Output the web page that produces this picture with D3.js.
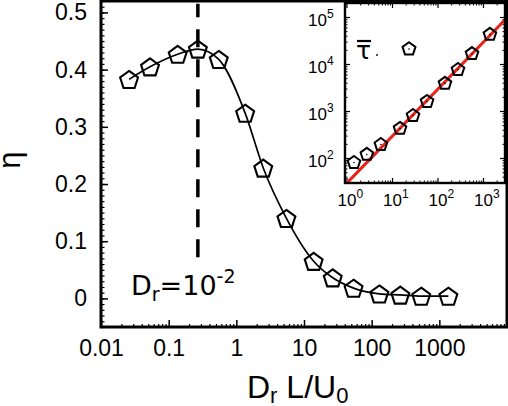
<!DOCTYPE html>
<html>
<head>
<meta charset="utf-8">
<script src="https://cdn.jsdelivr.net/npm/d3@7"></script>
<style>
  body { margin: 0; background: #fff; }
  svg { display: block; }
</style>
</head>
<body>
<div id="chart"></div>
<script>
// Main panel data: eta vs Dr L/U0
const drValues = [0.026, 0.053, 0.136, 0.27, 0.55, 1.35, 2.5, 5.5, 13.9, 26.6, 54, 130, 265, 540, 1360];
const etaValues = [0.383, 0.405, 0.427, 0.436, 0.418, 0.324, 0.228, 0.14, 0.065, 0.036, 0.018, 0.008, 0.006, 0.004, 0.004];
const xTicks = [0.01, 0.1, 1, 10, 100, 1000];
const xTickLabels = ['0.01', '0.1', '1', '10', '100', '1000'];
const yTicks = [0, 0.1, 0.2, 0.3, 0.4, 0.5];
const yTickLabels = ['0', '0.1', '0.2', '0.3', '0.4', '0.5'];
const peakDr = 0.27;
const peakLineEta = [0.072, 0.515];

// Inset data: mean tau vs Dr L/U0 (log-log)
const tauX = [1.46, 2.8, 5.7, 15, 29, 59, 146, 282, 573, 1420];
const tauY = [82, 122, 198, 435, 820, 1630, 3960, 7800, 17000, 43600];
const fitX = [1.08, 3050];
const fitY = [31, 87000];
const insetXTicks = [1, 10, 100, 1000];
const insetXExp = ['0', '1', '2', '3'];
const insetYTicks = [100, 1000, 10000, 100000];
const insetYExp = ['2', '3', '4', '5'];

// Layout
const W = 508, H = 406;
const MAIN = { LEFT: 101, RIGHT: 507, TOP: 1, BOTTOM: 327 };
const INSET = { LEFT: 345, RIGHT: 505, TOP: 3, BOTTOM: 183 };
const TICK_FONT = '"Liberation Sans", Arial, sans-serif';

const svg = d3.select('#chart').append('svg')
  .attr('width', W)
  .attr('height', H);

// Pentagon path centred on 0,0
function pentagon(r) {
  const pts = d3.range(5).map(k => {
    const a = -Math.PI / 2 + k * 2 * Math.PI / 5;
    return [r * Math.cos(a), r * Math.sin(a)];
  });
  return 'M' + pts.map(p => p.join(',')).join('L') + 'Z';
}

// Log minor ticks within a domain
function logMinor(domain) {
  const out = [];
  for (let e = Math.floor(Math.log10(domain[0])); e <= Math.ceil(Math.log10(domain[1])); e++) {
    for (let m = 2; m <= 9; m++) {
      const v = m * Math.pow(10, e);
      if (v >= domain[0] && v <= domain[1]) out.push(v);
    }
  }
  return out;
}

// ---------- Main panel ----------
const x = d3.scaleLog().domain([0.01, 10000]).range([MAIN.LEFT, MAIN.RIGHT]);
const y = d3.scaleLinear().domain([-0.05, 0.52]).range([MAIN.BOTTOM, MAIN.TOP]);

// minor ticks
svg.append('g')
  .attr('transform', `translate(0, ${MAIN.BOTTOM})`)
  .call(d3.axisBottom(x).tickValues(logMinor([0.01, 10000])).tickFormat('').tickSizeInner(-3).tickSizeOuter(0))
  .call(g => g.select('.domain').remove())
  .selectAll('line').attr('stroke-width', 1.2);

svg.append('g')
  .attr('transform', `translate(${MAIN.LEFT}, 0)`)
  .call(d3.axisLeft(y).tickValues(d3.range(-5, 53).map(i => i / 100)).tickFormat('').tickSizeInner(-3.5).tickSizeOuter(0))
  .call(g => g.select('.domain').remove())
  .selectAll('line').attr('stroke-width', 1.2);

// major ticks with labels
const xAxis = svg.append('g')
  .attr('transform', `translate(0, ${MAIN.BOTTOM})`)
  .call(d3.axisBottom(x).tickValues(xTicks).tickFormat((d, i) => xTickLabels[i]).tickSizeInner(-7).tickSizeOuter(0).tickPadding(13))
  .call(g => g.select('.domain').remove());
xAxis.selectAll('line').attr('stroke-width', 1.5);
xAxis.selectAll('text').attr('font-family', TICK_FONT).attr('font-size', 23).attr('fill', '#000');

const yAxis = svg.append('g')
  .attr('transform', `translate(${MAIN.LEFT}, 0)`)
  .call(d3.axisLeft(y).tickValues(yTicks).tickFormat((d, i) => yTickLabels[i]).tickSizeInner(-7).tickSizeOuter(0).tickPadding(14))
  .call(g => g.select('.domain').remove());
yAxis.selectAll('line').attr('stroke-width', 1.5);
yAxis.selectAll('text').attr('font-family', TICK_FONT).attr('font-size', 23).attr('fill', '#000');

// frame
svg.append('rect')
  .attr('x', MAIN.LEFT)
  .attr('y', MAIN.TOP)
  .attr('width', MAIN.RIGHT - MAIN.LEFT)
  .attr('height', MAIN.BOTTOM - MAIN.TOP)
  .attr('fill', 'none')
  .attr('stroke', '#000')
  .attr('stroke-width', 3);

// dashed marker line, drawn bottom-up so the dash pattern starts at the bottom
svg.append('line')
  .attr('x1', x(peakDr))
  .attr('x2', x(peakDr))
  .attr('y1', y(peakLineEta[0]))
  .attr('y2', y(peakLineEta[1]))
  .attr('stroke', '#000')
  .attr('stroke-width', 3.5)
  .attr('stroke-dasharray', '18,12');

const mainData = drValues.map((d, i) => ({ x: d, y: etaValues[i] }));

svg.append('path')
  .datum(mainData)
  .attr('fill', 'none')
  .attr('stroke', '#000')
  .attr('stroke-width', 1.7)
  .attr('d', d3.line().x(d => x(d.x)).y(d => y(d.y)).curve(d3.curveMonotoneX));

svg.selectAll('.pent')
  .data(mainData)
  .enter()
  .append('path')
  .attr('class', 'pent')
  .attr('transform', d => `translate(${x(d.x)}, ${y(d.y) + 1})`)
  .attr('d', pentagon(9.4))
  .attr('fill', 'none')
  .attr('stroke', '#000')
  .attr('stroke-width', 2.1)
  .attr('stroke-linejoin', 'miter');

// annotation
const ann = svg.append('text')
  .attr('x', 131)
  .attr('y', 295)
  .attr('font-family', '"DejaVu Sans", sans-serif')
  .attr('font-size', 27)
  .attr('fill', '#000');
ann.append('tspan').text('D');
ann.append('tspan').attr('font-size', 19).attr('dy', 6).text('r');
ann.append('tspan').attr('dy', -6).text('=10');
ann.append('tspan').attr('font-size', 19).attr('dy', -12).text('-2');

// axis titles
svg.append('text')
  .attr('transform', 'translate(20, 160) rotate(-90)')
  .attr('text-anchor', 'middle')
  .attr('font-family', TICK_FONT)
  .attr('font-size', 31)
  .attr('fill', '#000')
  .text('η');

const xl = svg.append('text')
  .attr('x', 247)
  .attr('y', 398)
  .attr('font-family', TICK_FONT)
  .attr('font-size', 32)
  .attr('fill', '#000');
xl.append('tspan').text('D');
xl.append('tspan').attr('font-size', 22).attr('dy', 5).text('r');
xl.append('tspan').attr('dy', -5).text(' L/U');
xl.append('tspan').attr('font-size', 22).attr('dy', 5).text('0');

// ---------- Inset ----------
const ix = d3.scaleLog().domain([0.927, 3046]).range([INSET.LEFT, INSET.RIGHT]);
const iy = d3.scaleLog().domain([29.4, 198600]).range([INSET.BOTTOM, INSET.TOP]);

svg.append('rect')
  .attr('x', INSET.LEFT)
  .attr('y', INSET.TOP)
  .attr('width', INSET.RIGHT - INSET.LEFT)
  .attr('height', INSET.BOTTOM - INSET.TOP)
  .attr('fill', '#fff');

const inset = svg.append('g');

svg.append('clipPath').attr('id', 'insetClip')
  .append('rect')
  .attr('x', INSET.LEFT)
  .attr('y', INSET.TOP)
  .attr('width', INSET.RIGHT - INSET.LEFT)
  .attr('height', INSET.BOTTOM - INSET.TOP);

// inset ticks on all four sides, pointing inward
const ixMinor = logMinor(ix.domain());
const iyMinor = logMinor(iy.domain());
[
  [d3.axisBottom(ix), INSET.BOTTOM, 'x', ixMinor, insetXTicks],
  [d3.axisTop(ix), INSET.TOP, 'x', ixMinor, insetXTicks],
  [d3.axisLeft(iy), INSET.LEFT, 'y', iyMinor, insetYTicks],
  [d3.axisRight(iy), INSET.RIGHT, 'y', iyMinor, insetYTicks]
].forEach(([ax, pos, dir, minor, major]) => {
  const tr = dir === 'x' ? `translate(0, ${pos})` : `translate(${pos}, 0)`;
  inset.append('g').attr('transform', tr)
    .call(ax.tickValues(minor).tickFormat('').tickSizeInner(-2.5).tickSizeOuter(0))
    .call(g => g.select('.domain').remove())
    .selectAll('line').attr('stroke-width', 1);
  inset.append('g').attr('transform', tr)
    .call(ax.tickValues(major).tickFormat('').tickSizeInner(-5).tickSizeOuter(0))
    .call(g => g.select('.domain').remove())
    .selectAll('line').attr('stroke-width', 1.2);
});

// inset tick labels with exponents
insetXTicks.forEach((v, i) => {
  const t = inset.append('text')
    .attr('x', ix(v) - 9)
    .attr('y', 206)
    .attr('font-family', TICK_FONT)
    .attr('font-size', 17)
    .attr('fill', '#000');
  t.append('tspan').text('10');
  t.append('tspan').attr('font-size', 12).attr('dy', -8).text(insetXExp[i]);
});

insetYTicks.forEach((v, i) => {
  const t = inset.append('text')
    .attr('x', 308)
    .attr('y', iy(v) + 9)
    .attr('font-family', TICK_FONT)
    .attr('font-size', 17)
    .attr('fill', '#000');
  t.append('tspan').text('10');
  t.append('tspan').attr('font-size', 12).attr('dy', -8).text(insetYExp[i]);
});

// fit line
const fitData = fitX.map((d, i) => ({ x: d, y: fitY[i] }));
inset.append('path')
  .datum(fitData)
  .attr('clip-path', 'url(#insetClip)')
  .attr('fill', 'none')
  .attr('stroke', '#e8241a')
  .attr('stroke-width', 3)
  .attr('d', d3.line().x(d => ix(d.x)).y(d => iy(d.y)));

// inset points
const tauData = tauX.map((d, i) => ({ x: d, y: tauY[i] }));
const tauG = inset.selectAll('.tau')
  .data(tauData)
  .enter()
  .append('g')
  .attr('class', 'tau')
  .attr('transform', d => `translate(${ix(d.x)}, ${iy(d.y) + 0.5})`);
tauG.append('path')
  .attr('d', pentagon(6.6))
  .attr('fill', 'none')
  .attr('stroke', '#000')
  .attr('stroke-width', 2);
tauG.append('circle').attr('r', 0.8).attr('fill', '#000');

// inset legend
inset.append('text')
  .attr('x', 356)
  .attr('y', 59)
  .attr('font-family', '"DejaVu Sans", sans-serif')
  .attr('font-size', 25)
  .attr('fill', '#000')
  .text('τ');
inset.append('line')
  .attr('x1', 357).attr('x2', 371)
  .attr('y1', 41).attr('y2', 41)
  .attr('stroke', '#000')
  .attr('stroke-width', 2.2);
inset.append('circle').attr('cx', 377).attr('cy', 55).attr('r', 0.9).attr('fill', '#000');
const legP = inset.append('g').attr('transform', 'translate(409, 49)');
legP.append('path')
  .attr('d', pentagon(6.8))
  .attr('fill', 'none')
  .attr('stroke', '#000')
  .attr('stroke-width', 2);
legP.append('circle').attr('r', 0.8).attr('fill', '#000');

// inset frame
inset.append('rect')
  .attr('x', INSET.LEFT)
  .attr('y', INSET.TOP)
  .attr('width', INSET.RIGHT - INSET.LEFT)
  .attr('height', INSET.BOTTOM - INSET.TOP)
  .attr('fill', 'none')
  .attr('stroke', '#000')
  .attr('stroke-width', 2.4);
</script>
</body>
</html>
